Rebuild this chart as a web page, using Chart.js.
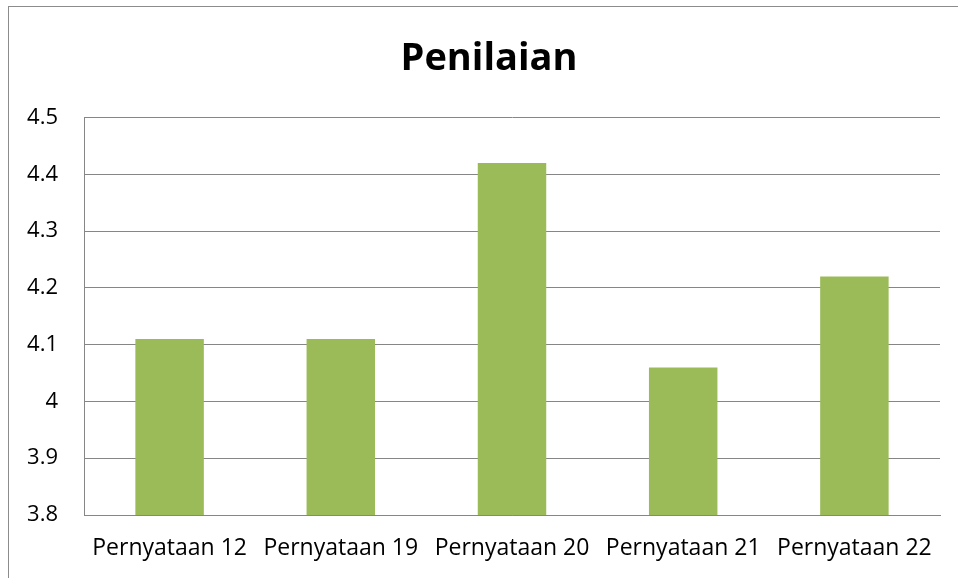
<!DOCTYPE html>
<html>
<head>
<meta charset="utf-8">
<script src="https://cdn.jsdelivr.net/npm/chart.js@4.4.1/dist/chart.umd.min.js"></script>
<style>
html,body{margin:0;padding:0;background:#fff;overflow:hidden;}
#wrap{position:absolute;left:0;top:0;width:958px;height:578px;}
#frame{position:absolute;left:8px;top:6px;width:1000px;height:1000px;border:1px solid #8c8c8c;box-sizing:border-box;}
canvas{position:absolute;left:0;top:0;}
</style>
</head>
<body>
<div id="wrap">
<div id="frame"></div>
<canvas id="c" width="958" height="578"></canvas>
</div>
<script>
const categories = ["Pernyataan 12", "Pernyataan 19", "Pernyataan 20", "Pernyataan 21", "Pernyataan 22"];
const values = [4.11, 4.11, 4.42, 4.06, 4.22];
const yTicks = [3.8, 3.9, 4, 4.1, 4.2, 4.3, 4.4, 4.5];
const titleText = "Penilaian";

const FONT = "'Open Sans', 'Liberation Sans', sans-serif";

const titleShift = {
  id: 'titleShift',
  afterLayout(chart) {
    const t = chart.titleBlock;
    if (t) { t.left = 38; t.right = 940; t.width = t.right - t.left; }
  }
};

new Chart(document.getElementById('c'), {
  type: 'bar',
  data: {
    labels: categories,
    datasets: [{
      data: values,
      backgroundColor: '#9BBB59',
      borderWidth: 0,
      categoryPercentage: 1.0,
      barPercentage: 0.4
    }]
  },
  plugins: [titleShift],
  options: {
    responsive: false,
    animation: false,
    devicePixelRatio: 1,
    layout: { padding: { left: 0, right: 18, top: 0, bottom: 0 } },
    plugins: {
      legend: { display: false },
      tooltip: { enabled: false },
      title: {
        display: true,
        text: titleText,
        color: '#000',
        font: { family: FONT, size: 38, weight: 'bold', lineHeight: 1.2 },
        padding: { top: 36, bottom: 36 }
      }
    },
    scales: {
      x: {
        grid: { display: false, drawTicks: false },
        border: { display: true, color: '#868686', width: 1 },
        ticks: { color: '#000', font: { family: FONT, size: 23 }, padding: 20, maxRotation: 0, autoSkip: false },
        afterFit(s) { s.height = 63; }
      },
      y: {
        min: 3.8, max: 4.5,
        afterBuildTicks(s) { s.ticks = yTicks.map(v => ({ value: v })); },
        grid: { color: '#868686', lineWidth: 1, drawTicks: false },
        border: { display: true, color: '#868686', width: 1 },
        ticks: {
          color: '#000', font: { family: FONT, size: 22 }, padding: 26,
          callback(v) { return String(Math.round(v * 10) / 10); }
        },
        afterFit(s) { s.width = 84; }
      }
    }
  }
});
</script>
</body>
</html>
